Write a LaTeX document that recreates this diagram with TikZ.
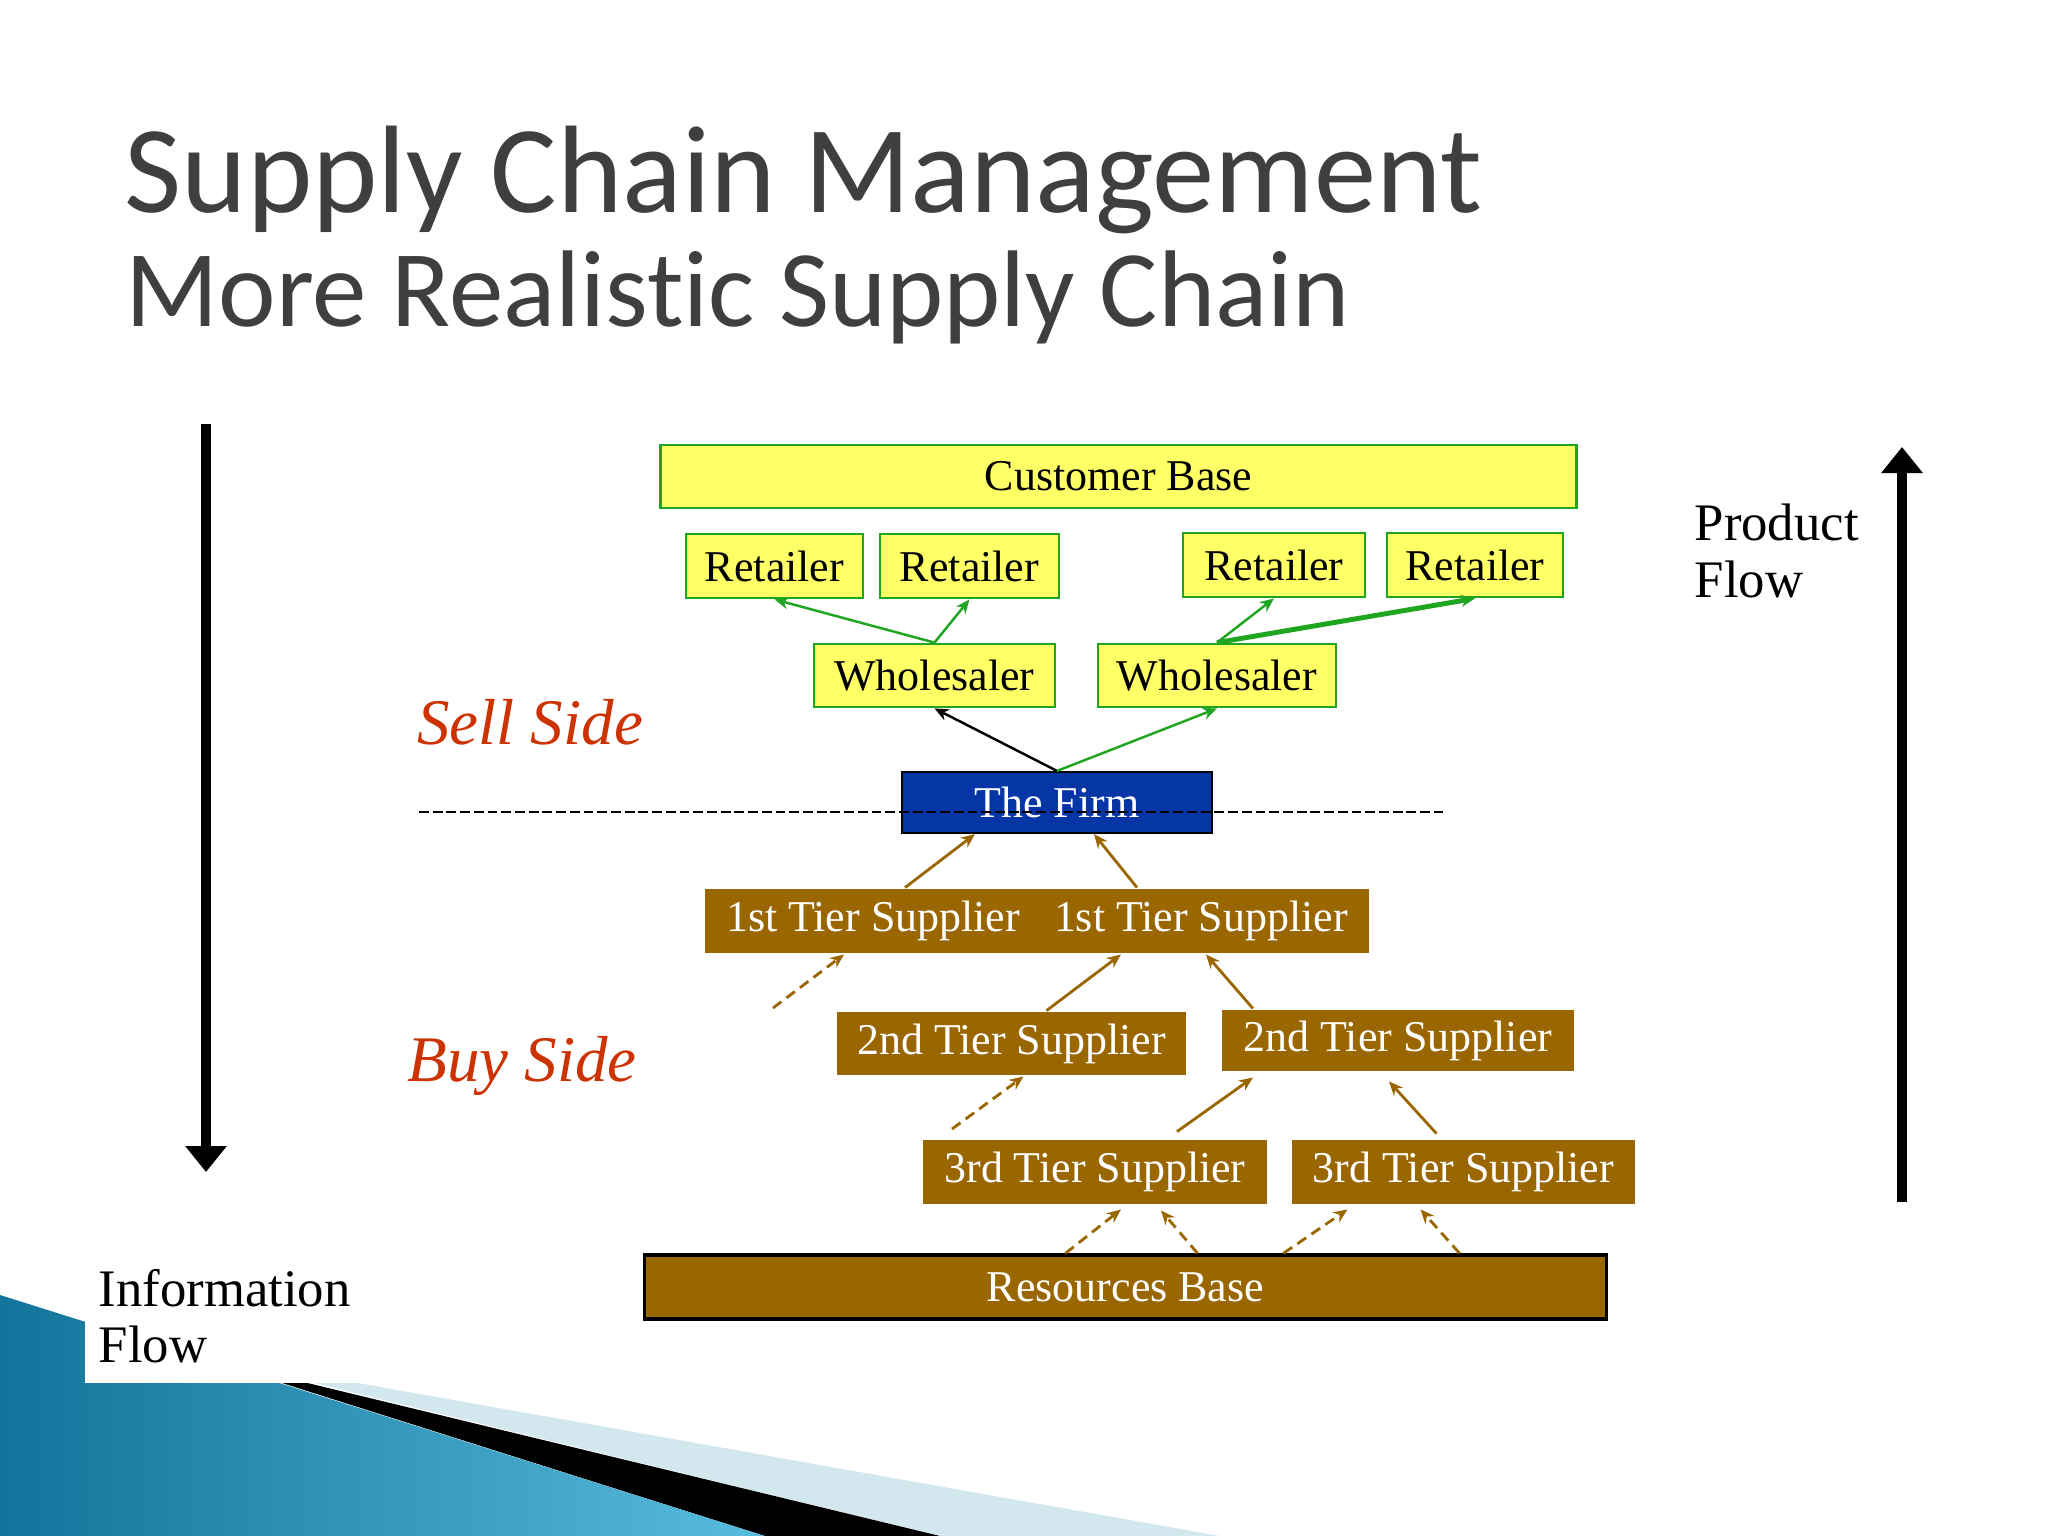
\documentclass[tikz,border=0pt]{standalone}
\usepackage{fontspec}
\setmainfont{Liberation Serif}
\newfontfamily\titlefont[Ligatures=NoCommon]{Carlito}
\usepackage{xcolor}
\usepackage{tikz}
\usetikzlibrary{arrows.meta,positioning,calc}

\definecolor{cbyellow}{HTML}{FFFF66}
\definecolor{cbgreen}{HTML}{1FA51F}
\definecolor{firmblue}{HTML}{0635A5}
\definecolor{tierbrown}{HTML}{996600}
\definecolor{sidered}{HTML}{CC3300}
\definecolor{titlegray}{HTML}{3F3F3F}
\definecolor{tealdark}{HTML}{12749A}
\definecolor{teallight}{HTML}{58BCDD}
\definecolor{palestripe}{HTML}{D3E7EF}

\begin{document}
\begin{tikzpicture}[
  x=0.01cm, y=-0.01cm,
  font=\fontsize{12.5}{14}\selectfont,
  >={Stealth[length=4pt,width=3.4pt]},
  box/.style={draw, inner sep=0pt, line width=0.8pt, align=center, minimum height=0.63cm},
  sell/.style={box, fill=cbyellow, draw=cbgreen},
  firmbox/.style={box, fill=firmblue, draw=black, text=white, line width=0.6pt},
  tier/.style={box, fill=tierbrown, draw=none, text=white},
  side/.style={inner sep=0pt, font=\fontsize{18.5}{20}\selectfont\itshape, text=sidered},
  flowlabel/.style={inner sep=0pt, align=left, font=\fontsize{15}{16}\selectfont},
  flow/.style={line width=2.8pt, -{Triangle[width=0.4cm,length=0.26cm]}},
  greenarr/.style={->, cbgreen, line width=0.7pt},
  brownarr/.style={->, tierbrown, line width=0.8pt},
  dasharr/.style={brownarr, dash pattern=on 3pt off 1.8pt}
]
\useasboundingbox (0,0) rectangle (2048,1536);
\fill[white] (0,0) rectangle (2048,1536);

% slide decoration
\fill[palestripe] (200,1355) -- (1220,1536) -- (940,1536) -- cycle;
\fill[black] (200,1357) -- (940,1536) -- (765,1536) -- cycle;
\shade[left color=tealdark, right color=teallight] (0,1295) -- (765,1536) -- (0,1536) -- cycle;
\fill[white] (85,1240) rectangle (380,1383);

\node[anchor=base west, inner sep=0pt, text=titlegray, font=\titlefont\fontsize{35.4}{40}\selectfont] (title) at (124,212) {Supply Chain Management};
\node[anchor=base west, inner sep=0pt, text=titlegray, font=\titlefont\fontsize{31}{36}\selectfont] (subtitle) at (125,326) {More Realistic Supply Chain};

% sell side
\node[sell, minimum width=9.15cm] (cust) at (1118.5,476.5) {Customer Base};
\node[sell, minimum width=1.77cm, minimum height=0.64cm] (ret1) at (774.5,566) {Retailer};
\node[sell, minimum width=1.79cm, minimum height=0.64cm] (ret2) at (969.5,566) {Retailer};
\node[sell, minimum width=1.82cm, minimum height=0.64cm] (ret3) at (1274,565) {Retailer};
\node[sell, minimum width=1.76cm, minimum height=0.64cm] (ret4) at (1475,565) {Retailer};
\node[sell, minimum width=2.41cm] (whl1) at (934.5,675.5) {Wholesaler};
\node[sell, minimum width=2.38cm] (whl2) at (1217,675.5) {Wholesaler};
\node[firmbox, minimum width=3.10cm, minimum height=0.61cm] (firm) at (1057,802.5) {The Firm};

% buy side
\node[tier, minimum width=6.64cm, minimum height=0.64cm] (tierone) at (1037,921) {1st Tier Supplier\hspace{0.34cm}1st Tier Supplier};
\node[tier, minimum width=3.49cm] (tiertwoa) at (1011.5,1043.5) {2nd Tier Supplier};
\node[tier, minimum width=3.52cm, minimum height=0.61cm] (tiertwob) at (1398,1040.5) {2nd Tier Supplier};
\node[tier, minimum width=3.44cm, minimum height=0.64cm] (tierthreea) at (1095,1172) {3rd Tier Supplier};
\node[tier, minimum width=3.43cm, minimum height=0.64cm] (tierthreeb) at (1463.5,1172) {3rd Tier Supplier};
\node[tier, draw=black, line width=1pt, minimum width=9.61cm, minimum height=0.64cm] (res) at (1125.5,1287) {Resources Base};

\draw[greenarr] (whl1.north) -- (ret1.south);
\draw[greenarr] (whl1.north) -- (ret2.south);
\draw[greenarr] (whl2.north) -- (ret3.south);
\draw[greenarr, line width=1.4pt] (whl2.north) -- (ret4.south);
\draw[->, line width=0.7pt] (firm.north) -- (whl1.south);
\draw[greenarr] (firm.north) -- (whl2.south);

\draw[brownarr] ($(tierone.north)+(-132,0)$) -- ($(firm.south)+(-82,0)$);
\draw[brownarr] ($(tierone.north)+(100,0)$) -- ($(firm.south)+(37,0)$);
\coordinate (loose1) at (773,1008);
\draw[dasharr] (loose1) -- ($(tierone.south)+(-193,0)$);
\draw[brownarr] ($(tiertwoa.north)+(35,0)$) -- ($(tierone.south)+(84,0)$);
\draw[brownarr] ($(tiertwob.north)+(-145,0)$) -- ($(tierone.south)+(169,0)$);
\coordinate (loose2) at (952,1129);
\draw[dasharr] (loose2) -- ($(tiertwoa.south)+(12,0)$);
\draw[brownarr] ($(tierthreea.north)+(82,-7)$) -- ($(tiertwob.south)+(-145,5)$);
\draw[brownarr] ($(tierthreeb.north)+(-27,-5)$) -- ($(tiertwob.south)+(-9,9)$);
\draw[dasharr] ($(res.north)+(-60,0)$) -- ($(tierthreea.south)+(26,4)$);
\draw[dasharr] ($(res.north)+(72,0)$) -- ($(tierthreea.south)+(66,5)$);
\draw[dasharr] ($(res.north)+(158,0)$) -- ($(tierthreeb.south)+(-116,4)$);
\draw[dasharr] ($(res.north)+(334,0)$) -- ($(tierthreeb.south)+(-43,4)$);

\coordinate (sepleft) at (419,812);
\coordinate (sepright) at (1443,812);
\draw[line width=0.6pt, dash pattern=on 2.8pt off 1.1pt] (sepleft) -- (sepright);

\node[side, anchor=base] (sell) at (530,744) {Sell Side};
\node[side, anchor=base] (buy) at (522,1081) {Buy Side};

% flow arrows
\coordinate (infotop) at (206,424);
\coordinate (infobot) at (206,1172);
\draw[flow] (infotop) -- (infobot);
\coordinate (prodbot) at (1902,1202);
\coordinate (prodtop) at (1902,447);
\draw[flow] (prodbot) -- (prodtop);
\node[flowlabel, anchor=west] (prodlabel) at (1694,551) {Product\\Flow};
\node[flowlabel, anchor=west] (infolabel) at (98,1316) {Information\\Flow};
\end{tikzpicture}
\end{document}
